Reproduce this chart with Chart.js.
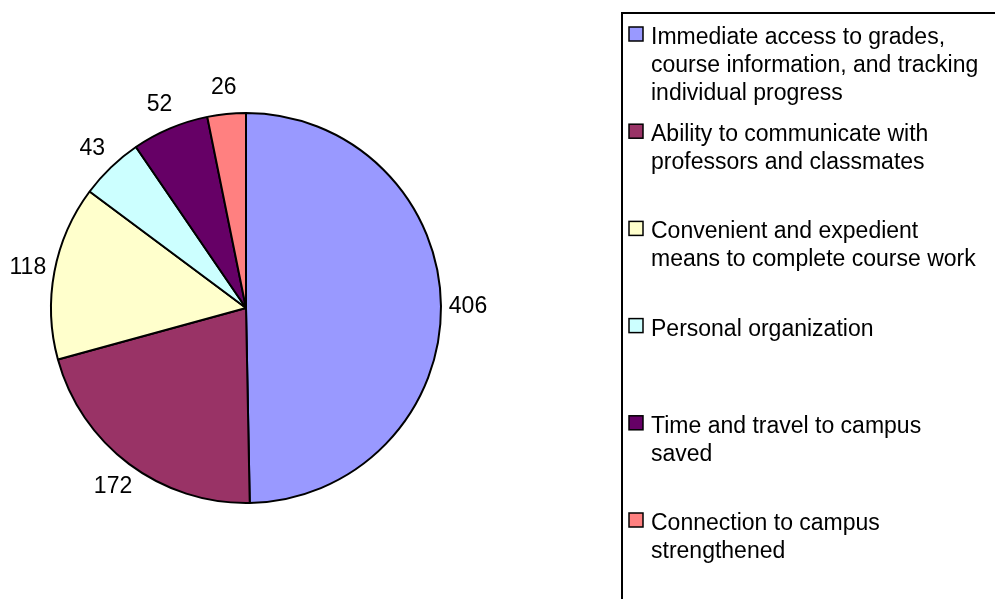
<!DOCTYPE html>
<html>
<head>
<meta charset="utf-8">
<script src="https://cdn.jsdelivr.net/npm/chart.js@4"></script>
<style>
  html, body { margin: 0; padding: 0; background: #fff; }
  #wrap { width: 995px; height: 599px; position: relative; }
</style>
</head>
<body>
<div id="wrap"><canvas id="pieChart" width="995" height="599"></canvas></div>
<script>
// Dữ liệu biểu đồ
const categories = [
  ['Immediate access to grades,', 'course information, and tracking', 'individual progress'],
  ['Ability to communicate with', 'professors and classmates'],
  ['Convenient and expedient', 'means to complete course work'],
  ['Personal organization'],
  ['Time and travel to campus', 'saved'],
  ['Connection to campus', 'strengthened']
];
const values = [406, 172, 118, 43, 52, 26];
const sliceColors = ['#9999FF', '#993366', '#FFFFCC', '#CCFFFF', '#660066', '#FF8080'];

const FONT = '23px "Liberation Sans", Arial, sans-serif';

// Nhãn giá trị bên ngoài lát bánh
const outsideLabels = {
  id: 'outsideLabels',
  afterDatasetsDraw(chart) {
    const ctx = chart.ctx;
    const meta = chart.getDatasetMeta(0);
    ctx.save();
    ctx.font = FONT;
    ctx.fillStyle = '#000';
    ctx.textAlign = 'center';
    ctx.textBaseline = 'middle';
    meta.data.forEach((arc, i) => {
      const mid = (arc.startAngle + arc.endAngle) / 2;
      const r = arc.outerRadius + 27;
      const x = arc.x + Math.cos(mid) * r;
      const y = arc.y + Math.sin(mid) * r;
      ctx.fillText(String(values[i]), x, y + 1);
    });
    ctx.restore();
  }
};

// Chú giải tự vẽ (nhiều dòng)
const boxLegend = {
  id: 'boxLegend',
  afterDraw(chart) {
    const ctx = chart.ctx;
    ctx.save();
    ctx.strokeStyle = '#000';
    ctx.lineWidth = 2;
    ctx.strokeRect(622, 13, 500, 700);
    ctx.font = FONT;
    ctx.textAlign = 'left';
    ctx.textBaseline = 'alphabetic';
    const step = 97.2;
    categories.forEach((lines, i) => {
      const base = 44 + i * step;
      ctx.fillStyle = sliceColors[i];
      ctx.fillRect(629, base - 17, 14, 14);
      ctx.lineWidth = 1.5;
      ctx.strokeRect(629, base - 17, 14, 14);
      ctx.fillStyle = '#000';
      lines.forEach((ln, j) => ctx.fillText(ln, 651, base + j * 28));
    });
    ctx.restore();
  }
};

const pieCtx = document.getElementById('pieChart').getContext('2d');
const pieChart = new Chart(pieCtx, {
  type: 'pie',
  data: {
    labels: categories,
    datasets: [{
      data: values,
      backgroundColor: sliceColors,
      borderColor: '#000',
      borderWidth: 2
    }]
  },
  options: {
    responsive: false,
    animation: false,
    layout: { padding: { left: 50, right: 553, top: 112, bottom: 95 } },
    plugins: {
      legend: { display: false },
      tooltip: { enabled: false }
    }
  },
  plugins: [outsideLabels, boxLegend]
});
</script>
</body>
</html>
